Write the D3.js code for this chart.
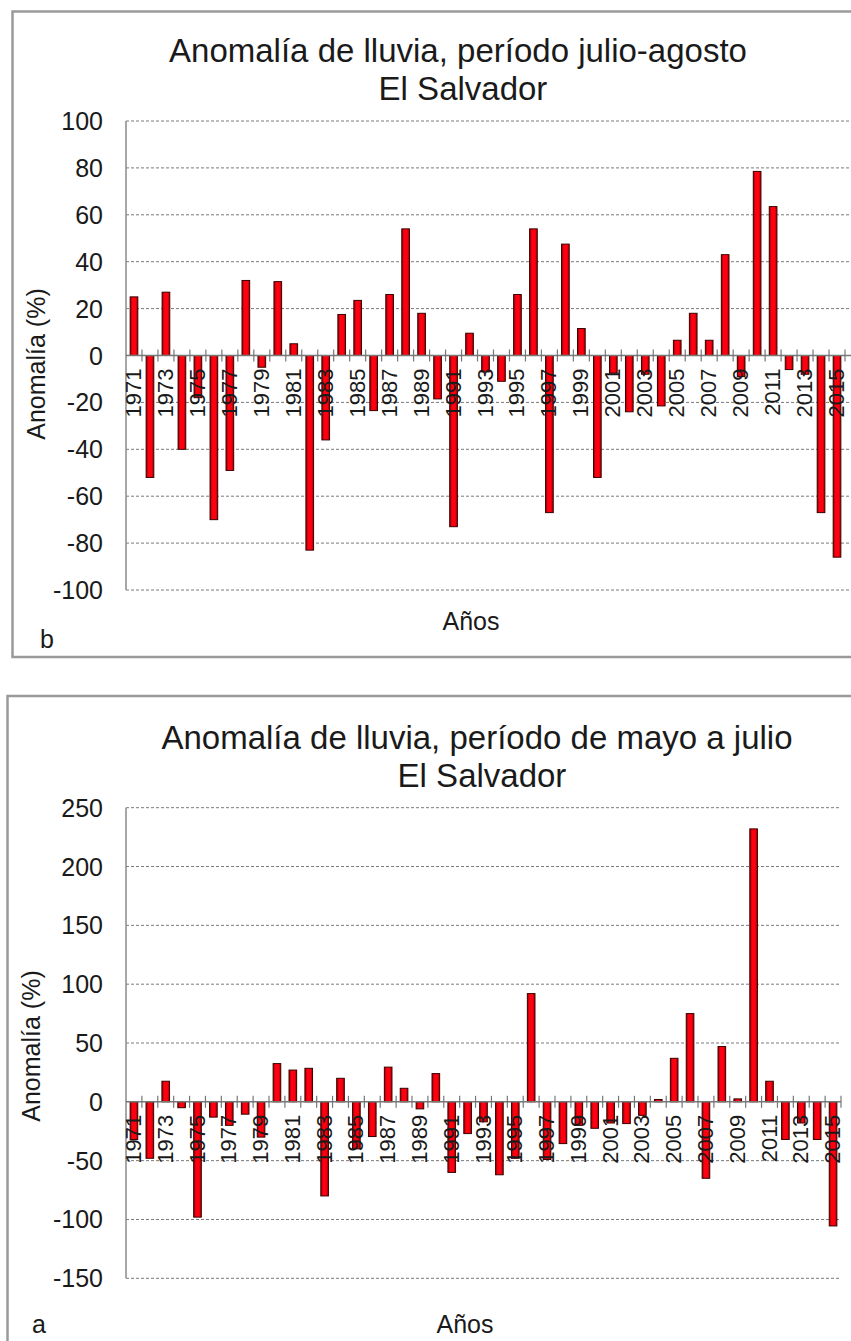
<!DOCTYPE html>
<html>
<head>
<meta charset="utf-8">
<title>Anomalía de lluvia - El Salvador</title>
<script src="https://cdn.jsdelivr.net/npm/d3@7"></script>
<style>
  body { margin: 0; background: #fff; }
  svg text { font-family: "Liberation Sans", Arial, sans-serif; fill: #1a1a1a; }
</style>
</head>
<body>
<svg id="chart" width="851" height="1341"></svg>
<script>
// ---- data ----
var years = [1971,1972,1973,1974,1975,1976,1977,1978,1979,1980,
             1981,1982,1983,1984,1985,1986,1987,1988,1989,1990,
             1991,1992,1993,1994,1995,1996,1997,1998,1999,2000,
             2001,2002,2003,2004,2005,2006,2007,2008,2009,2010,
             2011,2012,2013,2014,2015];

// b: julio-agosto
var anomJulAgo = [25,-52,27,-40,-18,-70,-49,32,-5,31.5,
                  5,-83,-36,17.5,23.5,-23.5,26,54,18,-18.5,
                  -73,9.5,-7,-11,26,54,-67,47.5,11.5,-52,
                  -7.5,-24,-8,-21.5,6.5,18,6.5,43,-9,78.5,
                  63.5,-6,-8,-67,-86];

// a: mayo a julio
var anomMayJul = [-32,-48,17.5,-5,-98,-13,-20,-10.5,-30,32.5,
                  27,28.5,-80,20,-40,-29.5,29.5,11.5,-6,24,
                  -60,-27,-17,-62,-48,92,-49,-35.5,-20,-22.5,
                  -18,-18.5,-11.5,2,37,75,-65,47,2.5,232,
                  17.5,-32,-18,-32,-105.5];

var ticksJulAgo = [-100,-80,-60,-40,-20,0,20,40,60,80,100];
var ticksMayJul = [-150,-100,-50,0,50,100,150,200,250];

var svg = d3.select("#chart");

function drawChart(c) {
  // frame
  svg.append("rect")
    .attr("x", c.frame[0]).attr("y", c.frame[1])
    .attr("width", c.frame[2]).attr("height", c.frame[3])
    .attr("fill", "none").attr("stroke", "#9a9a9a").attr("stroke-width", 2.5);

  var x = d3.scaleBand().domain(c.years).range([c.left, c.right]).paddingInner(0.52).paddingOuter(0.26);
  var xb = d3.scaleBand().domain(c.years).range([c.left, c.right]);
  var y = d3.scaleLinear().domain(c.domain).range([c.bottom, c.top]);
  var g = svg.append("g");

  // dashed grid
  g.selectAll(".grid").data(c.ticks.filter(function(t) { return t != 0; }))
    .enter().append("line")
    .attr("x1", c.left).attr("x2", c.gridEnd)
    .attr("y1", function(d) { return y(d); }).attr("y2", function(d) { return y(d); })
    .attr("stroke", "#7a7a7a").attr("stroke-width", 1)
    .attr("stroke-dasharray", "3,2");

  // left axis line
  g.append("line")
    .attr("x1", c.left).attr("x2", c.left)
    .attr("y1", y(c.domain[1])).attr("y2", y(c.domain[0]))
    .attr("stroke", "#8a8a8a").attr("stroke-width", 1.5);

  // y tick labels
  g.selectAll(".yt").data(c.ticks).enter().append("text")
    .attr("x", 103).attr("y", function(d) { return y(d); })
    .attr("dy", "0.36em")
    .attr("text-anchor", "end")
    .style("font-size", "25px")
    .text(function(d) { return d; });

  // bars
  g.selectAll(".bar").data(c.values).enter().append("rect")
    .attr("x", function(d, i) { return x(c.years[i]); })
    .attr("width", x.bandwidth())
    .attr("y", function(d) { return y(Math.max(0, d)); })
    .attr("height", function(d) { return Math.abs(y(d) - y(0)); })
    .attr("fill", "url(#barGrad)")
    .attr("stroke", "#3a0000").attr("stroke-width", 1);

  // zero line with cross ticks
  g.append("line")
    .attr("x1", c.left).attr("x2", c.gridEnd)
    .attr("y1", y(0)).attr("y2", y(0))
    .attr("stroke", "#777").attr("stroke-width", 1.5);
  g.selectAll(".xt").data(c.years).enter().append("line")
    .attr("x1", function(d) { return xb(d) + xb.bandwidth(); })
    .attr("x2", function(d) { return xb(d) + xb.bandwidth(); })
    .attr("y1", y(0) - 6).attr("y2", y(0) + 6)
    .attr("stroke", "#777").attr("stroke-width", 1.2);

  // year labels (every other year)
  g.selectAll(".yl").data(c.years.filter(function(d, i) { return i % 2 == 0; }))
    .enter().append("text")
    .attr("transform", function(d) {
      return "translate(" + (xb(d) + xb.bandwidth() / 2 + 7) + "," + (y(0) + 13) + ") rotate(-90)";
    })
    .attr("text-anchor", "end")
    .style("font-size", "22px")
    .text(function(d) { return d; });

  // titles
  svg.append("text").attr("x", c.titleX).attr("y", c.titleY)
    .attr("text-anchor", "middle").style("font-size", "33px").text(c.title1);
  svg.append("text").attr("x", c.titleX + 5).attr("y", c.titleY + 38)
    .attr("text-anchor", "middle").style("font-size", "33px").text(c.title2);

  // axis titles
  svg.append("text")
    .attr("transform", "translate(" + (c.ylabX + 9) + "," + c.ylabY + ") rotate(-90)")
    .attr("text-anchor", "middle").style("font-size", "25px")
    .text("Anomalía  (%)");
  svg.append("text").attr("x", c.xlabX).attr("y", c.xlabY)
    .attr("text-anchor", "middle").style("font-size", "25px").text("Años");

  svg.append("text").attr("x", c.tagX).attr("y", c.tagY)
    .style("font-size", "25px").text(c.tag);
}

// bar fill: bright red with darker edges
var grad = svg.append("defs").append("linearGradient")
  .attr("id", "barGrad").attr("x1", "0").attr("x2", "1").attr("y1", "0").attr("y2", "0");
grad.append("stop").attr("offset", "0").attr("stop-color", "#8c0000");
grad.append("stop").attr("offset", "0.3").attr("stop-color", "#ff0010");
grad.append("stop").attr("offset", "0.7").attr("stop-color", "#ff0010");
grad.append("stop").attr("offset", "1").attr("stop-color", "#a00000");

drawChart({
  years: years, values: anomJulAgo, ticks: ticksJulAgo,
  domain: [-100, 100], left: 126, right: 845, gridEnd: 851, top: 121, bottom: 590,
  frame: [12.5, 11.5, 900, 645.5],
  title1: "Anomalía de lluvia, período julio-agosto", title2: "El Salvador",
  titleX: 458, titleY: 62,
  ylabX: 36, ylabY: 364, xlabX: 471, xlabY: 630,
  tag: "b", tagX: 40, tagY: 648
});

drawChart({
  years: years, values: anomMayJul, ticks: ticksMayJul,
  domain: [-150, 250], left: 126, right: 841, gridEnd: 841, top: 807.7, bottom: 1278.3,
  frame: [7.5, 696, 900, 700],
  title1: "Anomalía de lluvia, período de mayo a julio", title2: "El Salvador",
  titleX: 477, titleY: 749,
  ylabX: 31, ylabY: 1046, xlabX: 465, xlabY: 1333,
  tag: "a", tagX: 32, tagY: 1333
});
</script>
</body>
</html>
